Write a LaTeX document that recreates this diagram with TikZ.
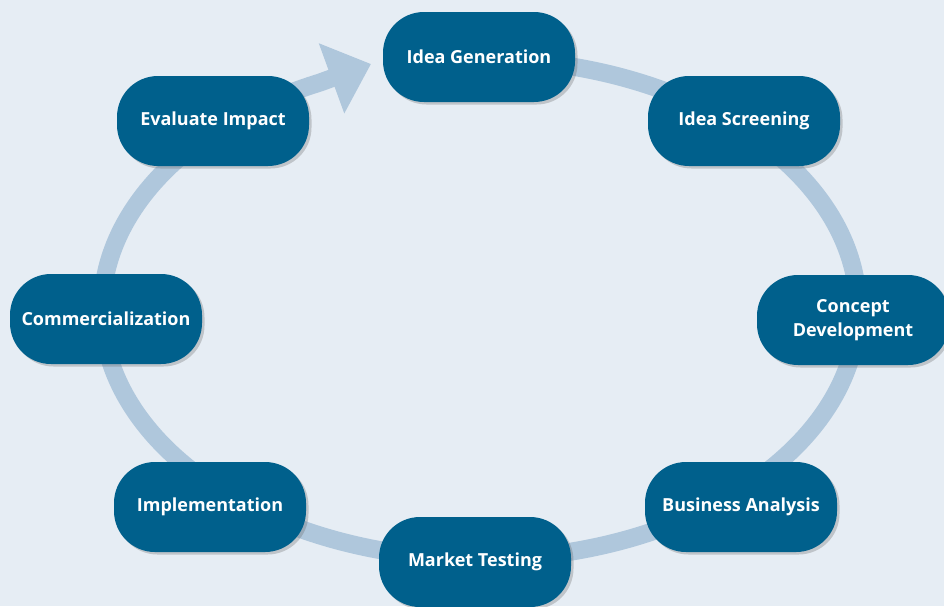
\documentclass[tikz,border=0pt]{standalone}
\usepackage{fontspec}
\setmainfont{Open Sans}
\usetikzlibrary{arrows.meta,shadows}
\definecolor{bgc}{HTML}{E6EDF4}
\definecolor{boxc}{HTML}{00608C}
\definecolor{ringc}{HTML}{AFC7DC}
\tikzset{
  stage/.style={fill=boxc, text=white, font=\bfseries\fontsize{18}{24}\selectfont,
    minimum width=192pt, minimum height=90pt, rounded corners=41pt, align=center,
    inner sep=0pt,
    drop shadow={opacity=0.3, shadow xshift=2.5pt, shadow yshift=-2.5pt, fill=black!60}},
  ring/.style={draw=ringc, line width=18pt}
}
\begin{document}
\begin{tikzpicture}[x=1pt,y=-1pt]
\fill[bgc] (0,0) rectangle (944,606);
\useasboundingbox (0,0) rectangle (944,606);
\coordinate (tip) at (371,64);
\draw[ring, -{Triangle[length=42pt,width=72pt]}] plot[domain=90:-245, samples=200, smooth]
  ({480+378*cos(\x)}, {309-250*sin(\x)}) -- (tip);
\node[stage] (ig) at (479,57) {Idea Generation};
\node[stage] (is) at (744,121) {Idea Screening};
\node[stage] (cd) at (853,320) {Concept\\Development};
\node[stage] (ba) at (741,507) {Business Analysis};
\node[stage] (mt) at (475,562) {Market Testing};
\node[stage] (im) at (210,507) {Implementation};
\node[stage] (co) at (106,319) {Commercialization};
\node[stage] (ei) at (213,121) {Evaluate Impact};
\end{tikzpicture}
\end{document}
